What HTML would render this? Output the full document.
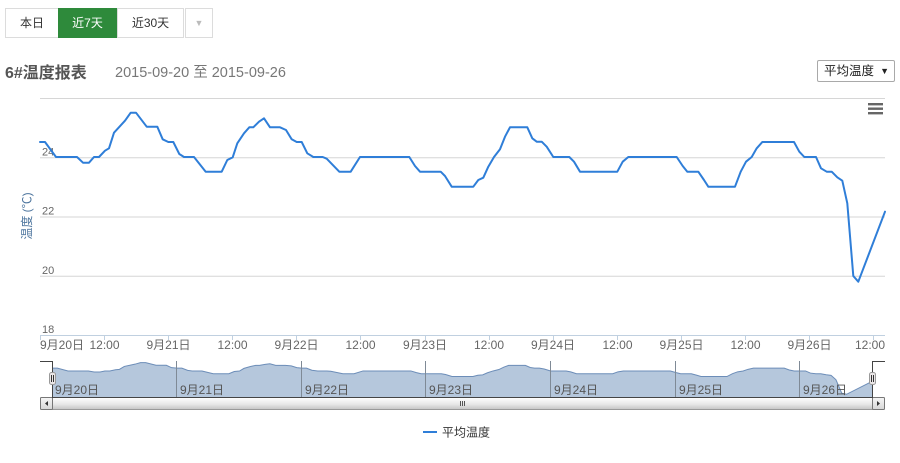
<!DOCTYPE html>
<html>
<head>
<meta charset="utf-8">
<style>
  html,body{margin:0;padding:0;background:#fff;}
  body{width:900px;height:463px;position:relative;overflow:hidden;font-family:"Liberation Sans","Noto Sans CJK SC",sans-serif;}
  .btn{position:absolute;top:8px;height:30px;box-sizing:border-box;border:1px solid #dcdcdc;background:#fff;color:#333;font-size:12px;line-height:28px;text-align:center;}
  .green{background:#2e8a3b;border-color:#2e8a3b;color:#fff;}
  .title{position:absolute;left:5px;top:59px;font-size:16px;font-weight:bold;color:#555;}
  .date{position:absolute;left:115px;top:61px;font-size:14.5px;color:#777;}
  .sel{position:absolute;left:817px;top:60px;width:78px;height:22px;box-sizing:border-box;border:1px solid #a9a9a9;border-radius:2px;background:#fff;font-size:12.5px;color:#222;line-height:20px;padding-left:6px;}
  .sel span{position:absolute;right:5px;top:0;font-size:9px;}
  svg{position:absolute;left:0;top:0;}
</style>
</head>
<body>
<div class="btn" style="left:5px;width:54px;">本日</div>
<div class="btn green" style="left:58px;width:59px;">近7天</div>
<div class="btn" style="left:117px;width:67px;">近30天</div>
<div class="btn" style="left:185px;width:28px;color:#bbb;font-size:9px;">▼</div>
<div class="title">6#温度报表</div>
<div class="date">2015-09-20 至 2015-09-26</div>
<div class="sel">平均温度<span>▼</span></div>

<svg width="900" height="463" viewBox="0 0 900 463" xmlns="http://www.w3.org/2000/svg" font-family="Liberation Sans, Noto Sans CJK SC, sans-serif">
  <defs>
    <linearGradient id="thumb" x1="0" y1="0" x2="0" y2="1">
      <stop offset="0" stop-color="#ffffff"/>
      <stop offset="0.55" stop-color="#e8e8e8"/>
      <stop offset="1" stop-color="#c4c4c4"/>
    </linearGradient>
    <linearGradient id="btng" x1="0" y1="0" x2="0" y2="1">
      <stop offset="0" stop-color="#f6f6f6"/>
      <stop offset="1" stop-color="#d6d6d6"/>
    </linearGradient>
  </defs>

  <!-- grid lines -->
  <g stroke="#d6d6d6" stroke-width="1">
    <line x1="40" y1="98.5" x2="885" y2="98.5"/>
    <line x1="40" y1="157.75" x2="885" y2="157.75"/>
    <line x1="40" y1="217" x2="885" y2="217"/>
    <line x1="40" y1="276.25" x2="885" y2="276.25"/>
  </g>
  <!-- x axis -->
  <line x1="40" y1="335.5" x2="885" y2="335.5" stroke="#c0d0e0" stroke-width="1"/>
  <g stroke="#c0d0e0" stroke-width="1">
    <line x1="40.5" y1="335" x2="40.5" y2="340"/>
    <line x1="104.5" y1="335" x2="104.5" y2="340"/>
    <line x1="168.5" y1="335" x2="168.5" y2="340"/>
    <line x1="232.5" y1="335" x2="232.5" y2="340"/>
    <line x1="296.5" y1="335" x2="296.5" y2="340"/>
    <line x1="360.5" y1="335" x2="360.5" y2="340"/>
    <line x1="425.5" y1="335" x2="425.5" y2="340"/>
    <line x1="489.5" y1="335" x2="489.5" y2="340"/>
    <line x1="553.5" y1="335" x2="553.5" y2="340"/>
    <line x1="617.5" y1="335" x2="617.5" y2="340"/>
    <line x1="681.5" y1="335" x2="681.5" y2="340"/>
    <line x1="745.5" y1="335" x2="745.5" y2="340"/>
    <line x1="809.5" y1="335" x2="809.5" y2="340"/>
    <line x1="873.5" y1="335" x2="873.5" y2="340"/>
  </g>

  <!-- y labels -->
  <g font-size="11" fill="#666">
    <text x="42" y="155.5">24</text>
    <text x="42" y="214.5">22</text>
    <text x="42" y="274">20</text>
    <text x="42" y="333">18</text>
  </g>
  <!-- y title -->
  <text transform="translate(31,216) rotate(-90)" text-anchor="middle" font-size="12" fill="#4d759e">温度 (℃)</text>

  <!-- x labels -->
  <g font-size="12" fill="#666" text-anchor="middle">
    <text x="40" y="349" text-anchor="start">9月20日</text>
    <text x="104.5" y="349">12:00</text>
    <text x="168.5" y="349">9月21日</text>
    <text x="232.5" y="349">12:00</text>
    <text x="296.5" y="349">9月22日</text>
    <text x="360.5" y="349">12:00</text>
    <text x="425" y="349">9月23日</text>
    <text x="489" y="349">12:00</text>
    <text x="553" y="349">9月24日</text>
    <text x="617.5" y="349">12:00</text>
    <text x="681.5" y="349">9月25日</text>
    <text x="745.5" y="349">12:00</text>
    <text x="809.5" y="349">9月26日</text>
    <text x="885" y="349" text-anchor="end">12:00</text>
  </g>

  <!-- main series -->
  <polyline fill="none" stroke="#2f7ed8" stroke-width="2" stroke-linejoin="round" stroke-linecap="round"
    points="40,142 45,142 56,157 77,157 83,162.7 89,162.7 94,157 99,157 105,150.7 109,148.3 114,132.7 125,120.7 130.7,112.7 136,112.7 146.7,126.7 157.3,126.7 162.7,139.3 168.3,142 173.3,142 179.3,154 184,157 194,157 205.7,171.7 221.7,171.7 227.3,160 232.7,157.3 237.3,143.3 244,133.3 249.3,127.3 253.3,127.3 259,121.7 264,118.3 270,127.3 280,127.3 286,130 291.7,139.3 296.7,142 301.7,142 307.3,153.3 313.3,157 322.7,157 326.7,158.7 339.3,171.7 350.7,171.7 360,157 409.3,157 415,166 420,171.7 440.7,171.7 445,176 451.7,186.7 473.3,186.7 478.3,180 483.3,177.7 488.3,166.7 494,157 500,149.3 505,136.7 510,127.3 527.3,127.3 532.3,138.3 536.7,141.7 541.7,141.7 546.7,146.7 553.3,157 569.3,157 574,161.7 580,171.7 617.3,171.7 622.7,161.7 628.3,157 676.7,157 682.7,166 687.3,171.7 698.3,171.7 704,180 708.3,186.7 735,186.7 740.7,171.7 746,161.7 751.7,157 756.7,148.3 762.3,142 794,142 799.3,151.7 804.3,157 816,157 821,168.3 826.7,171.7 831.7,171.7 837.3,177.3 842.3,180.7 847.3,203.3 853.3,276 858.3,281.7 885,211.7"/>

  <!-- menu icon -->
  <g fill="#666">
    <rect x="868" y="103" width="15" height="2.4"/>
    <rect x="868" y="107.5" width="15" height="2.4"/>
    <rect x="868" y="112" width="15" height="2.4"/>
  </g>

  <!-- navigator series -->
  <g transform="matrix(0.97041,0,0,0.187,13.68,341.6)">
    <polygon fill="rgba(69,114,167,0.4)" stroke="none"
      points="40,142 45,142 56,157 77,157 83,162.7 89,162.7 94,157 99,157 105,150.7 109,148.3 114,132.7 125,120.7 130.7,112.7 136,112.7 146.7,126.7 157.3,126.7 162.7,139.3 168.3,142 173.3,142 179.3,154 184,157 194,157 205.7,171.7 221.7,171.7 227.3,160 232.7,157.3 237.3,143.3 244,133.3 249.3,127.3 253.3,127.3 259,121.7 264,118.3 270,127.3 280,127.3 286,130 291.7,139.3 296.7,142 301.7,142 307.3,153.3 313.3,157 322.7,157 326.7,158.7 339.3,171.7 350.7,171.7 360,157 409.3,157 415,166 420,171.7 440.7,171.7 445,176 451.7,186.7 473.3,186.7 478.3,180 483.3,177.7 488.3,166.7 494,157 500,149.3 505,136.7 510,127.3 527.3,127.3 532.3,138.3 536.7,141.7 541.7,141.7 546.7,146.7 553.3,157 569.3,157 574,161.7 580,171.7 617.3,171.7 622.7,161.7 628.3,157 676.7,157 682.7,166 687.3,171.7 698.3,171.7 704,180 708.3,186.7 735,186.7 740.7,171.7 746,161.7 751.7,157 756.7,148.3 762.3,142 794,142 799.3,151.7 804.3,157 816,157 821,168.3 826.7,171.7 831.7,171.7 837.3,177.3 842.3,180.7 847.3,203.3 853.3,276 858.3,281.7 885,211.7 885,296.3 40,296.3"/>
    <polyline fill="none" stroke="#6c8db8" stroke-width="1" vector-effect="non-scaling-stroke"
      points="40,142 45,142 56,157 77,157 83,162.7 89,162.7 94,157 99,157 105,150.7 109,148.3 114,132.7 125,120.7 130.7,112.7 136,112.7 146.7,126.7 157.3,126.7 162.7,139.3 168.3,142 173.3,142 179.3,154 184,157 194,157 205.7,171.7 221.7,171.7 227.3,160 232.7,157.3 237.3,143.3 244,133.3 249.3,127.3 253.3,127.3 259,121.7 264,118.3 270,127.3 280,127.3 286,130 291.7,139.3 296.7,142 301.7,142 307.3,153.3 313.3,157 322.7,157 326.7,158.7 339.3,171.7 350.7,171.7 360,157 409.3,157 415,166 420,171.7 440.7,171.7 445,176 451.7,186.7 473.3,186.7 478.3,180 483.3,177.7 488.3,166.7 494,157 500,149.3 505,136.7 510,127.3 527.3,127.3 532.3,138.3 536.7,141.7 541.7,141.7 546.7,146.7 553.3,157 569.3,157 574,161.7 580,171.7 617.3,171.7 622.7,161.7 628.3,157 676.7,157 682.7,166 687.3,171.7 698.3,171.7 704,180 708.3,186.7 735,186.7 740.7,171.7 746,161.7 751.7,157 756.7,148.3 762.3,142 794,142 799.3,151.7 804.3,157 816,157 821,168.3 826.7,171.7 831.7,171.7 837.3,177.3 842.3,180.7 847.3,203.3 853.3,276 858.3,281.7 885,211.7"/>
  </g>

  <!-- navigator grid lines -->
  <g stroke="#7f8a96" stroke-width="1">
    <line x1="176.5" y1="361" x2="176.5" y2="397"/>
    <line x1="301.5" y1="361" x2="301.5" y2="397"/>
    <line x1="425.5" y1="361" x2="425.5" y2="397"/>
    <line x1="550.5" y1="361" x2="550.5" y2="397"/>
    <line x1="675.5" y1="361" x2="675.5" y2="397"/>
    <line x1="799.5" y1="361" x2="799.5" y2="397"/>
  </g>
  <!-- navigator labels -->
  <g font-size="12" fill="#555">
    <text x="55" y="394">9月20日</text>
    <text x="180" y="394">9月21日</text>
    <text x="305" y="394">9月22日</text>
    <text x="429" y="394">9月23日</text>
    <text x="554" y="394">9月24日</text>
    <text x="679" y="394">9月25日</text>
    <text x="803" y="394">9月26日</text>
  </g>

  <!-- scrollbar -->
  <rect x="40" y="397" width="845" height="13" fill="#eeeeee"/>
  <rect x="52.5" y="397.5" width="820" height="12" fill="url(#thumb)" stroke="#9a9a9a" stroke-width="1"/>
  <g stroke="#555" stroke-width="1">
    <line x1="460.5" y1="401" x2="460.5" y2="406"/>
    <line x1="462.5" y1="401" x2="462.5" y2="406"/>
    <line x1="464.5" y1="401" x2="464.5" y2="406"/>
  </g>
  <rect x="40.5" y="397.5" width="12" height="12" rx="1" fill="url(#btng)" stroke="#777" stroke-width="1"/>
  <polygon points="45,403.5 48,401 48,406" fill="#333"/>
  <rect x="872.5" y="397.5" width="12" height="12" rx="1" fill="url(#btng)" stroke="#777" stroke-width="1"/>
  <polygon points="880,403.5 877,401 877,406" fill="#333"/>

  <!-- navigator outline -->
  <path d="M40 361.5 H52.5 V397.5 H872.5 V361.5 H885" fill="none" stroke="#444" stroke-width="1"/>

  <!-- handles -->
  <rect x="49.5" y="372.5" width="6" height="12" rx="2" fill="#ebe7e8" stroke="#999" stroke-width="1"/>
  <g stroke="#333" stroke-width="1">
    <line x1="51.5" y1="375" x2="51.5" y2="382"/>
    <line x1="53.5" y1="375" x2="53.5" y2="382"/>
  </g>
  <rect x="869.5" y="372.5" width="6" height="12" rx="2" fill="#ebe7e8" stroke="#999" stroke-width="1"/>
  <g stroke="#333" stroke-width="1">
    <line x1="871.5" y1="375" x2="871.5" y2="382"/>
    <line x1="873.5" y1="375" x2="873.5" y2="382"/>
  </g>

  <!-- legend -->
  <line x1="423" y1="432" x2="437" y2="432" stroke="#2f7ed8" stroke-width="2"/>
  <text x="442" y="436.5" font-size="12" fill="#333">平均温度</text>
</svg>
</body>
</html>
